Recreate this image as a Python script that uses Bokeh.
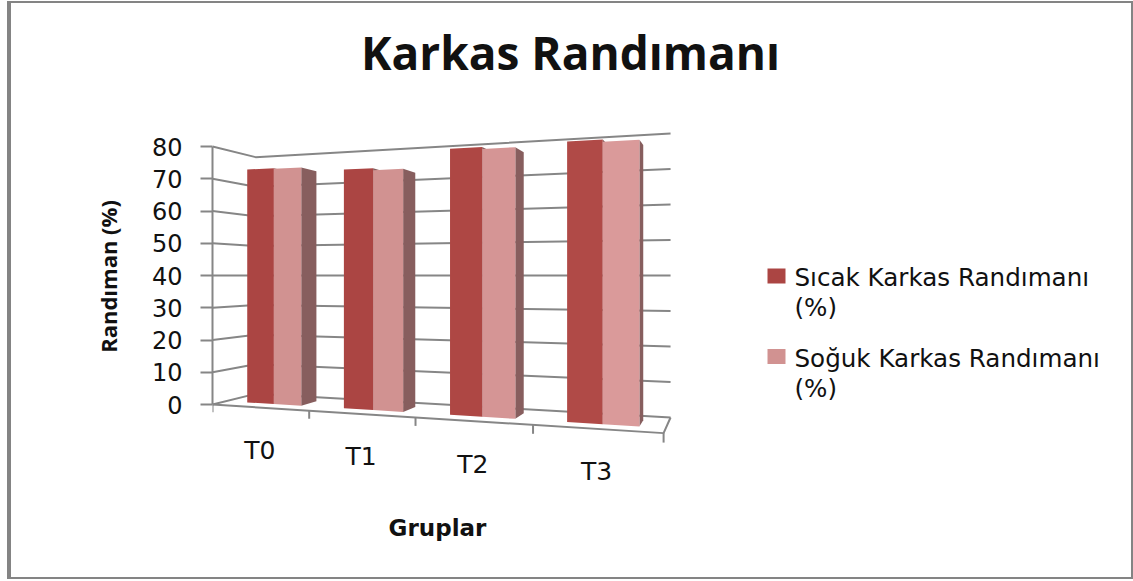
from bokeh.embed import file_html
from bokeh.resources import INLINE
from bokeh.plotting import figure
from bokeh.models import FixedTicker, Range1d
from bokeh.core.properties import value

title_text = "Karkas Randımanı"
y_label = "Randıman (%)"
x_label = "Gruplar"
groups = ["T0", "T1", "T2", "T3"]
series_names = ["Sıcak Karkas Randımanı\n(%)", "Soğuk Karkas Randımanı\n(%)"]
sicak = [73.4, 71.9, 76.4, 76.6]
soguk = [73.2, 71.3, 75.8, 76.0]
y_ticks = [0, 10, 20, 30, 40, 50, 60, 70, 80]

W, H = 1133, 581
FRAME_L, FRAME_B = 212, 552
Y0_PX, PX_PER_UNIT = 404.0, 3.225
FONT = "Open Sans"
GRID = "#868686"
INK = "#111111"
DARK = ["#AB4543", "#AB4543", "#AE4744", "#B04A47"]
LIGHT = ["#D19291", "#D19291", "#D59595", "#DA9A9A"]
SIDE = "#875E5E"
BORDER = "#848484"


def to_y(py):
    return (Y0_PX - py) / PX_PER_UNIT


def project(g, d, v):
    """Perspective view of the box: g along groups, d into the depth, v the value."""
    w = 1 - 0.0454 * g + 0.09 * d
    return (212 + 82.67 * g + 66 * d) / w, 40 + (v - 40) / w


def line(points):
    xs, ys = zip(*[project(*pt) for pt in points])
    return list(xs), list(ys)


p = figure(width=W, height=H, output_backend="svg", toolbar_location=None,
           x_axis_type=None,
           x_range=Range1d(FRAME_L, W),
           y_range=Range1d(to_y(FRAME_B), to_y(0)),
           min_border_left=FRAME_L, min_border_right=0, min_border_top=0,
           min_border_bottom=H - FRAME_B, outline_line_color=None,
           border_fill_color=None, background_fill_color=None,
           margin=(0, 0, 0, 0))
p.grid.visible = False
p.styles = {"box-shadow": (
    f"inset 7px 0 0 #fff, inset 0 1px 0 #fff, inset 0 -2px 0 #fff, "
    f"inset 11px 0 0 {BORDER}, inset 0 3px 0 {BORDER}, "
    f"inset -2px 0 0 {BORDER}, inset 0 -4px 0 {BORDER}")}

ax = p.yaxis[0]
ax.bounds = (0, 80)
ax.ticker = FixedTicker(ticks=y_ticks)
ax.axis_label = y_label
ax.axis_label_text_font = FONT
ax.axis_label_text_font_size = "22px"
ax.axis_label_text_font_style = "bold"
ax.axis_label_text_color = INK
ax.axis_label_standoff = 26
ax.major_label_text_font = "DejaVu Sans"
ax.major_label_text_font_size = "24px"
ax.major_label_text_color = INK
ax.major_label_standoff = 18
ax.major_tick_out = 12
ax.major_tick_in = 0
ax.minor_tick_out = 0
ax.minor_tick_in = 0
ax.axis_line_color = GRID
ax.axis_line_width = 2
ax.major_tick_line_color = GRID
ax.major_tick_line_width = 2

# title
p.text([570], [to_y(51)], text=[title_text], text_font=value(FONT),
       text_font_size="46px", text_font_style="bold", text_color=INK,
       text_align="center", text_baseline="middle")

# gridlines on the left and back walls
for t in y_ticks:
    xs, ys = line([(0, 0, t), (0, 1, t), (4, 1, t)])
    p.line(xs, ys, line_color=GRID, line_width=2)

# floor front and right edges, category ticks
xs, ys = line([(0, 0, 0), (4, 0, 0), (4, 1, 0)])
p.line(xs, ys, line_color=GRID, line_width=2)
for g in range(5):
    xs, ys = line([(g, 0, 0), (g, 0, -2.4)])
    p.line(xs, ys, line_color=GRID, line_width=2)

# bars
G1, G2, G3 = 0.23, 0.515, 0.80
D1, D2 = 0.30, 0.70
for i in range(len(groups)):
    faces = [(sicak, DARK, G1, G2), (soguk, LIGHT, G2, G3)]
    for vals, colors, a, b in faces:
        v = vals[i]
        xs, ys = line([(i + b, D1, 0), (i + b, D2, 0), (i + b, D2, v), (i + b, D1, v)])
        p.patch(xs, ys, fill_color=SIDE, line_color=None)
    for vals, colors, a, b in faces:
        v = vals[i]
        xs, ys = line([(i + a, D1, 0), (i + b, D1, 0), (i + b, D1, v), (i + a, D1, v)])
        p.patch(xs, ys, fill_color=colors[i], line_color=None)

# category labels
lx, ly = zip(*[project(i + 0.5, 0, 0) for i in range(len(groups))])
p.text(list(lx), list(ly), text=groups, y_offset=43,
       text_font=value("DejaVu Sans"), text_font_size="25px", text_color=INK,
       text_align="center", text_baseline="middle")

p.text([437], [to_y(527)], text=[x_label],
       text_font=value("DejaVu Sans"), text_font_size="23px", text_font_style="bold",
       text_color=INK, text_align="center", text_baseline="middle")

# legend
for name, color, sw_y in zip(series_names, [DARK[0], LIGHT[0]], [275.5, 356]):
    p.rect([776], [to_y(sw_y)], width=18, height=15, width_units="screen",
           height_units="screen", fill_color=color, line_color=None)
    p.text([794], [to_y(sw_y - 13)], text=[name], text_font=value("DejaVu Sans"),
           text_font_size="24.6px", text_color=INK, text_align="left",
           text_baseline="top", text_line_height=1.05)

open("out.html", "w").write(file_html(p, INLINE))
